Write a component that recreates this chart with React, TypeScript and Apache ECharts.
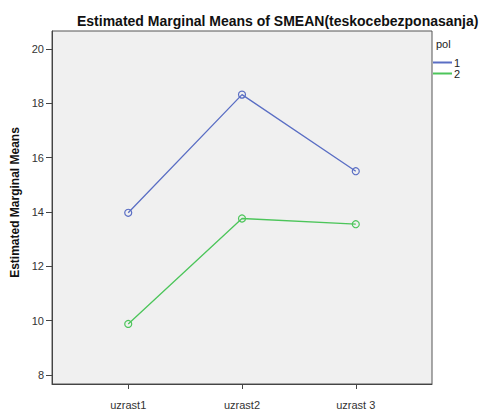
import React, { useEffect, useRef } from "react";
import * as echarts from "echarts";

const categories = ["uzrast1", "uzrast2", "uzrast 3"];
const seriesNames = ["1", "2"];
const pol1 = [13.97, 18.32, 15.5];
const pol2 = [9.88, 13.76, 13.55];
const yTicks = [8, 10, 12, 14, 16, 18, 20];
const colors = ["#5a6ec4", "#4cc55a"];

export default function App() {
  const ref = useRef<HTMLDivElement>(null);
  useEffect(() => {
    if (!ref.current) return;
    const chart = echarts.init(ref.current, null, { renderer: "svg" });
    const font = "'Liberation Sans', Arial, sans-serif";
    const toData = (arr: number[]) => arr.map((v, i) => [i, v]);
    chart.setOption({
      animation: false,
      textStyle: { fontFamily: font },
      title: {
        text: "Estimated Marginal Means of SMEAN(teskocebezponasanja)",
        left: 72,
        top: 9,
        textStyle: { fontSize: 14, fontWeight: "bold", color: "#111", fontFamily: font },
      },
      grid: {
        left: 52,
        right: 68,
        top: 31,
        bottom: 24,
        show: true,
        backgroundColor: "#f0f0f0",
        borderColor: "#555",
        borderWidth: 1,
      },
      legend: {
        orient: "vertical",
        left: 428,
        top: 52,
        icon: "rect",
        itemWidth: 19,
        itemHeight: 2,
        itemGap: 0,
        data: seriesNames.map((n, i) => ({ name: n, itemStyle: { color: colors[i], borderWidth: 0 } })),
        textStyle: { fontSize: 11, color: "#222", lineHeight: 10, padding: [0, 0, 0, -3] },
      },
      graphic: [
        {
          type: "text",
          left: 436,
          top: 38,
          style: { text: "pol", fontSize: 11, fill: "#222", fontFamily: font },
        },
      ],
      xAxis: {
        type: "value",
        min: -0.67,
        max: 2.67,
        splitLine: { show: false },
        axisLine: { show: true, onZero: false, lineStyle: { color: "#444", width: 1 } },
        axisTick: { show: true, customValues: [0, 1, 2], length: 5, lineStyle: { color: "#444" } },
        axisLabel: {
          customValues: [0, 1, 2],
          formatter: (v: number) => categories[Math.round(v)] ?? "",
          fontSize: 11,
          color: "#333",
          margin: 15,
        },
      },
      yAxis: {
        type: "value",
        min: 7.67,
        max: 20.66,
        name: "Estimated Marginal Means",
        nameLocation: "middle",
        nameGap: 26,
        nameTextStyle: {
          fontSize: 12,
          fontWeight: "bold",
          color: "#111",
          fontFamily: font,
          padding: [0, 0, 0, 10],
        },
        splitLine: { show: false },
        axisLine: { show: true, onZero: false, lineStyle: { color: "#444", width: 1 } },
        axisTick: { show: true, customValues: yTicks, length: 6, lineStyle: { color: "#444" } },
        axisLabel: { customValues: yTicks, fontSize: 11, color: "#333", margin: 8 },
      },
      series: [
        {
          name: seriesNames[0],
          type: "line",
          data: toData(pol1),
          color: colors[0],
          symbol: "circle",
          symbolSize: 7,
          lineStyle: { width: 1.3, color: colors[0] },
          itemStyle: { color: "transparent", borderColor: colors[0], borderWidth: 1.2 },
        },
        {
          name: seriesNames[1],
          type: "line",
          data: toData(pol2),
          color: colors[1],
          symbol: "circle",
          symbolSize: 7,
          lineStyle: { width: 1.3, color: colors[1] },
          itemStyle: { color: "transparent", borderColor: colors[1], borderWidth: 1.2 },
        },
      ],
    });
    return () => chart.dispose();
  }, []);
  return (
    <div
      ref={ref}
      style={{ position: "fixed", left: 0, top: 0, width: 500, height: 410, background: "#fff" }}
    />
  );
}
